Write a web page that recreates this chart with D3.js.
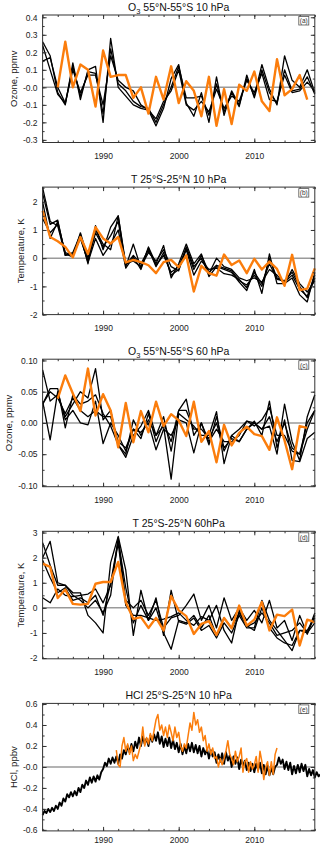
<!DOCTYPE html>
<html>
<head>
<meta charset="utf-8">
<script src="https://cdn.jsdelivr.net/npm/d3@7"></script>
<style>
    body { margin: 0; background: #fff; }
    svg { display: block; font-family: "Liberation Sans", Arial, sans-serif; }
</style>
</head>
<body>
<svg id="chart" width="320" height="847"></svg>
<script>
// annual series, 1982-2018
const years = [1982, 1983, 1984, 1985, 1986, 1987, 1988, 1989, 1990, 1991, 1992, 1993, 1994,
    1995, 1996, 1997, 1998, 1999, 2000, 2001, 2002, 2003, 2004, 2005, 2006, 2007, 2008, 2009,
    2010, 2011, 2012, 2013, 2014, 2015, 2016, 2017, 2018];

const yearTicks = [1990, 2000, 2010];
const yearMinorTicks = [1982, 1984, 1986, 1988, 1990, 1992, 1994, 1996, 1998, 2000, 2002, 2004,
    2006, 2008, 2010, 2012, 2014, 2016, 2018];

// (a) O3 10 hPa
const o3TenModels = [
    [0.26, 0.18, -0.03, -0.10, 0.14, -0.07, 0.10, 0.12, -0.20, 0.28, 0.00, -0.05, -0.10, -0.12, -0.13, -0.22, -0.12, 0.05, 0.13, -0.09, -0.165, -0.03, -0.20, 0.06, -0.16, -0.02, -0.10, 0.05, -0.05, 0.13, -0.01, -0.10, 0.18, 0.04, 0.00, 0.10, -0.03],
    [0.15, 0.17, 0.00, -0.09, 0.12, -0.05, 0.09, 0.08, -0.15, 0.22, 0.02, -0.02, -0.08, -0.11, -0.12, -0.20, -0.10, 0.00, 0.12, -0.06, -0.06, -0.05, -0.16, 0.02, -0.14, -0.03, -0.11, 0.07, -0.06, 0.10, -0.03, -0.09, 0.10, -0.02, -0.01, 0.06, -0.04],
    [0.24, 0.10, -0.04, -0.09, 0.10, -0.03, 0.07, 0.07, -0.10, 0.18, 0.04, 0.00, -0.02, -0.10, -0.13, -0.18, -0.08, -0.02, 0.10, -0.10, -0.13, -0.08, -0.14, -0.01, -0.12, -0.05, -0.08, 0.04, -0.03, 0.08, -0.07, -0.08, 0.07, -0.03, -0.02, 0.03, -0.02]
];
const o3TenObs = [null, null, 0.00, 0.26, 0.00, 0.13, 0.10, -0.11, 0.21, 0.06, 0.07, 0.07, -0.06, 0.00, -0.15, 0.06, -0.07, 0.12, -0.09, 0.035, -0.02, -0.165, 0.06, -0.22, -0.01, -0.21, 0.015, -0.02, 0.09, -0.08, -0.135, 0.16, -0.045, -0.01, 0.07, -0.07, null];

// (b) T 10 hPa
const tTenModels = [
    [2.5, 1.3, 1.15, 0.1, 0.2, 0.85, -0.2, 1.15, 0.3, 1.1, 1.5, -0.3, 0.5, -0.35, 0.4, -0.2, 0.45, -0.7, -0.2, 0.5, -0.2, 0.15, -0.65, -0.3, -0.4, -0.5, -0.85, -1.15, -0.4, -1.25, 0.15, -0.9, -0.9, -0.7, -1.3, -1.55, -0.5],
    [2.3, 1.2, 1.35, 0.1, 0.15, 0.75, -0.15, 0.7, 0.1, 0.5, 1.0, -0.35, 0.05, -0.4, 0.35, -0.3, 0.2, -0.6, -0.4, 0.3, -0.6, -0.1, -0.4, -0.35, -0.55, -0.6, -0.75, -1.05, -0.5, -0.9, -0.2, -0.75, -0.8, -0.5, -1.0, -1.4, -0.7],
    [2.0, 0.7, 1.3, 0.15, 0.05, 0.9, 0.0, 1.0, 0.5, 0.3, 1.5, -0.2, -0.1, -0.3, 0.2, -0.1, 0.3, -0.3, -0.45, 0.4, -0.3, 0.0, -0.55, 0.0, -0.3, -0.4, -0.7, -0.8, -0.7, -0.85, -0.4, -0.6, -0.9, -0.4, -0.9, -1.2, -0.8],
    [1.4, 0.9, 1.2, 0.2, 0.1, 0.7, -0.1, 0.9, 0.4, 0.8, 1.3, -0.25, 0.1, -0.2, 0.3, -0.25, 0.1, -0.5, -0.3, 0.35, -0.4, 0.1, -0.5, -0.25, -0.35, -0.45, -0.8, -0.95, -0.6, -1.0, 0.0, -0.7, -0.85, -0.6, -1.1, -1.35, -0.6]
];
const tTenObs = [1.68, 0.75, 0.6, 0.4, 0.03, 0.75, 0.15, 1.1, 0.7, 0.52, 0.75, -0.15, -0.06, -0.14, -0.25, -0.53, -0.14, -0.06, -0.32, 0.1, -1.18, -0.27, -0.53, -0.62, 0.13, -0.24, -0.08, -0.53, -0.02, -0.4, -0.12, -0.38, -0.98, 0.12, -1.13, -1.08, -0.36];

// (c) O3 60 hPa
const o3SixtyModels = [
    [0.085, 0.035, 0.045, 0.01, 0.03, 0.05, 0.04, 0.087, 0.005, 0.02, -0.035, -0.05, 0.005, -0.02, 0.005, -0.02, -0.005, -0.09, 0.015, 0.005, -0.005, -0.02, -0.02, 0.018, -0.065, -0.02, -0.01, 0.003, 0.0, -0.01, -0.005, -0.05, 0.03, -0.03, -0.06, 0.01, 0.045],
    [0.03, 0.055, 0.055, -0.008, 0.045, 0.03, 0.035, 0.045, 0.015, -0.005, -0.035, -0.055, -0.02, -0.005, 0.02, -0.02, 0.01, -0.045, 0.02, 0.038, -0.02, 0.0, -0.03, -0.01, -0.03, -0.03, -0.02, 0.003, -0.005, 0.005, 0.025, -0.02, -0.02, -0.045, -0.05, -0.01, 0.02],
    [0.035, -0.027, 0.05, 0.005, 0.02, 0.0, -0.003, 0.035, -0.033, 0.0, -0.02, -0.045, -0.01, -0.015, 0.0, -0.043, -0.01, -0.02, 0.005, 0.0, -0.048, 0.0, -0.035, 0.01, -0.04, -0.025, -0.03, -0.01, 0.003, -0.02, 0.035, -0.04, 0.005, -0.06, -0.062, -0.025, -0.015],
    [0.03, 0.05, 0.04, 0.015, 0.04, 0.02, 0.01, 0.02, 0.01, 0.01, -0.03, -0.04, -0.01, -0.025, 0.015, -0.03, 0.0, -0.03, 0.02, 0.02, -0.01, -0.01, -0.025, 0.0, -0.045, -0.02, -0.03, -0.01, 0.0, -0.01, 0.01, -0.03, 0.0, -0.04, -0.05, 0.0, 0.02]
];
const o3SixtyObs = [null, null, 0.039, 0.076, 0.047, 0.019, 0.087, 0.012, 0.046, 0.02, -0.039, 0.032, -0.031, 0.019, -0.015, 0.034, -0.005, 0.014, 0.004, -0.021, 0.034, -0.03, -0.013, -0.063, -0.003, -0.036, -0.016, -0.006, -0.018, -0.021, -0.043, 0.009, -0.028, -0.074, -0.005, -0.008, null];

// (d) T 60 hPa
const tSixtyModels = [
    [2.6, 1.7, 0.9, 0.9, 0.6, 0.6, -0.3, -0.6, -1.0, 1.8, 2.85, 1.5, -1.1, 0.7, -0.5, 0.4, -1.1, 0.7, -0.55, -0.65, -0.4, -0.9, -0.7, -1.2, -0.6, -1.0, -0.3, -0.8, -0.8, 0.3, -0.5, -0.9, -1.3, -1.7, -0.9, -1.0, -0.2],
    [2.0, 2.65, 1.0, 0.9, 0.5, 0.3, 0.0, 0.3, -0.2, 0.5, 2.8, 0.3, 0.0, 0.3, -0.3, 0.3, -0.8, -0.4, -0.3, 0.1, 0.55, -0.5, 0.1, -0.8, 0.4, -0.5, 0.0, -0.5, -0.1, -0.6, 0.3, -0.8, -0.5, -1.3, -0.3, -1.05, -0.3],
    [0.4, 0.2, 0.75, 0.5, 0.45, 0.5, 0.55, 0.75, 0.2, 0.9, 2.6, 0.1, -0.3, -0.3, -0.4, -0.5, -0.45, -0.35, -0.2, -0.5, -0.7, -0.35, -0.5, 0.1, -0.9, -1.4, -0.1, -0.75, -0.6, -0.2, -0.6, -1.1, -1.0, -0.9, -0.6, -1.0, -0.6],
    [1.9, 1.2, 0.6, 0.8, 0.3, 0.4, 0.2, 0.5, -0.3, 1.0, 2.7, 0.8, -0.6, 0.1, -0.5, 0.0, -1.0, -1.65, -0.5, -0.6, -0.3, -0.8, -0.3, -1.1, -0.4, -0.8, -0.2, -0.7, -0.9, 0.0, -0.8, -1.2, -1.4, -1.5, -0.9, -0.9, -0.4]
];
const tSixtyObs = [1.76, 1.63, 0.39, 0.73, 0.16, 0.13, 0.16, 0.96, 1.03, 1.03, 1.83, 0.23, -0.44, -0.37, -0.8, -0.4, -0.9, 0.47, -0.1, -0.33, -1.04, -0.64, -0.53, -1.08, -0.4, -0.81, 0.09, -0.71, -0.47, 0.23, -0.9, -0.27, -0.33, -0.07, -1.5, -0.47, -0.57];

// (e) HCl 10 hPa, quarterly
const hclModelStart = 1982;
const hclModel = [
    -0.46, -0.42, -0.44, -0.40,  -0.43, -0.39, -0.42, -0.37,  -0.40, -0.34, -0.37, -0.30,
    -0.33, -0.26, -0.29, -0.24,  -0.28, -0.23, -0.27, -0.20,  -0.24, -0.17, -0.20, -0.13,
    -0.17, -0.10, -0.15, -0.09,  -0.14, -0.08, -0.12, -0.05,  -0.02, 0.04, 0.01, 0.08,
    0.03, 0.09, 0.04, 0.10,  0.03, 0.12, 0.08, 0.16,  0.12, 0.20, 0.14, 0.22,
    0.15, 0.24, 0.18, 0.28,  0.20, 0.29, 0.22, 0.27,  0.20, 0.30, 0.24, 0.31,
    0.25, 0.33, 0.22, 0.29,  0.19, 0.27, 0.20, 0.28,  0.18, 0.26, 0.17, 0.23,
    0.14, 0.22, 0.12, 0.20,  0.13, 0.22, 0.15, 0.23,  0.14, 0.21, 0.13, 0.20,
    0.10, 0.18, 0.12, 0.17,  0.08, 0.16, 0.10, 0.14,  0.04, 0.12, 0.05, 0.13,
    0.03, 0.14, 0.06, 0.11,  0.00, 0.10, 0.03, 0.09,  -0.02, 0.07, 0.01, 0.06,
    -0.03, 0.04, -0.04, 0.03,  -0.05, 0.03, -0.03, 0.04,  -0.06, 0.02, -0.07, 0.01,
    -0.08, -0.01, -0.07, 0.00,  0.02, 0.09, 0.03, 0.07,  -0.02, 0.05, -0.03, 0.04,
    -0.07, 0.01, -0.06, 0.02,  -0.05, 0.03, -0.04, 0.02,  -0.09, -0.02, -0.08, -0.03,
    -0.10, -0.05, -0.09, -0.07
];
const hclObsStart = 1991.75;
const hclObs = [
    0.16,
    0.02, 0.00, 0.20, 0.28,  0.15, 0.22, 0.12, 0.20,  0.06, 0.12, 0.08, 0.15,
    0.22, 0.38, 0.20, 0.28,  0.22, 0.32, 0.25, 0.35,  0.45, 0.50, 0.35, 0.40,
    0.30, 0.38, 0.28, 0.40,  0.33, 0.25, 0.38, 0.28,  0.33, 0.20, 0.15, 0.22,
    0.18, 0.30, 0.42, 0.35,  0.52, 0.40, 0.45, 0.33,  0.38, 0.25, 0.30, 0.15,
    0.22, 0.12, 0.18, 0.08,  0.10, 0.00, 0.08, 0.02,  0.08, 0.15, 0.25, 0.12,
    0.08, 0.02, 0.15, 0.05,  0.10, 0.18, -0.05, 0.05,  0.08, -0.05, 0.05, -0.02,
    0.02, 0.10, -0.05, 0.15,  0.05, -0.12, 0.00, 0.05,  -0.08, 0.05, -0.07, 0.12,
    0.18
];

// y axis ticks and labels per panel
const o3TenTicks = [-0.3, -0.2, -0.1, 0, 0.1, 0.2, 0.3, 0.4];
const o3TenLabels = ["-0.3", "-0.2", "-0.1", "-0.0", "0.1", "0.2", "0.3", "0.4"];
const tTenTicks = [-2, -1, 0, 1, 2];
const tTenLabels = ["-2", "-1", "0", "1", "2"];
const o3SixtyTicks = [-0.10, -0.05, 0, 0.05, 0.10];
const o3SixtyLabels = ["-0.10", "-0.05", "0.00", "0.05", "0.10"];
const tSixtyTicks = [-2, -1, 0, 1, 2, 3];
const tSixtyLabels = ["-2", "-1", "0", "1", "2", "3"];
const hclTicks = [-0.6, -0.4, -0.2, 0, 0.2, 0.4, 0.6];
const hclLabels = ["-0.6", "-0.4", "-0.2", "-0.0", "0.2", "0.4", "0.6"];

const ORANGE = "#fb7d0c";

const annual = arr => years.map((yr, i) => ({x: yr, y: arr[i]}));
const quarterly = (start, arr) => arr.map((v, i) => ({x: start + i * 0.25, y: v}));

const panels = [
    {letter: "(a)", title: ["O", "3", " 55°N-55°S 10 hPa"], ylabel: "Ozone, ppmv", domain: [-0.315, 0.413],
        ticks: o3TenTicks, labels: o3TenLabels, minor: 0.05,
        black: o3TenModels.map(annual), orange: annual(o3TenObs), bw: 1.3, ow: 2.4},
    {letter: "(b)", title: ["T 25°S-25°N 10 hPa"], ylabel: "Temperature, K", domain: [-2, 2.52],
        ticks: tTenTicks, labels: tTenLabels, minor: 0.5,
        black: tTenModels.map(annual), orange: annual(tTenObs), bw: 1.3, ow: 2.4},
    {letter: "(c)", title: ["O", "3", " 55°N-55°S 60 hPa"], ylabel: "Ozone, ppmv", domain: [-0.102, 0.102],
        ticks: o3SixtyTicks, labels: o3SixtyLabels, minor: 0.025,
        black: o3SixtyModels.map(annual), orange: annual(o3SixtyObs), bw: 1.3, ow: 2.4},
    {letter: "(d)", title: ["T 25°S-25°N 60hPa"], ylabel: "Temperature, K", domain: [-2.03, 3.05],
        ticks: tSixtyTicks, labels: tSixtyLabels, minor: 0.5,
        black: tSixtyModels.map(annual), orange: annual(tSixtyObs), bw: 1.3, ow: 2.4},
    {letter: "(e)", title: ["HCl 25°S-25°N 10 hPa"], ylabel: "HCl, ppbv", domain: [-0.61, 0.606],
        ticks: hclTicks, labels: hclLabels, minor: 0.1,
        black: [quarterly(hclModelStart, hclModel)], orange: quarterly(hclObsStart, hclObs), bw: 1.9, ow: 1.5}
];

const svg = d3.select("#chart");
const left = 42.6, right = 314.8, panelH = 127.5, step = 172.1, firstTop = 15;

const x = d3.scaleLinear().domain([1982, 2018]).range([left, right]);

panels.forEach((p, i) => {
    const top = firstTop + i * step;
    const bottom = top + panelH;
    const y = d3.scaleLinear().domain(p.domain).range([bottom, top]);
    const g = svg.append("g").attr("class", "panel");
    const isLast = i === panels.length - 1;

    const minorVals = d3.range(Math.ceil(p.domain[0] / p.minor), Math.floor(p.domain[1] / p.minor) + 1)
        .map(k => +(k * p.minor).toFixed(4));

    // zero line
    g.append("line")
        .attr("x1", left).attr("x2", right)
        .attr("y1", y(0)).attr("y2", y(0))
        .attr("stroke", "#9a9a9a").attr("stroke-width", 1.5);

    const line = d3.line()
        .defined(d => d.y !== null)
        .x(d => x(d.x))
        .y(d => y(d.y));

    g.selectAll("path.model")
        .data(p.black)
        .join("path")
            .attr("class", "model")
            .attr("d", line)
            .attr("fill", "none")
            .attr("stroke", "#000")
            .attr("stroke-width", p.bw)
            .attr("stroke-linejoin", "round");

    g.append("path")
        .attr("d", line(p.orange))
        .attr("fill", "none")
        .attr("stroke", ORANGE)
        .attr("stroke-width", p.ow)
        .attr("stroke-linejoin", "round");

    // frame
    g.append("rect")
        .attr("x", left).attr("y", top)
        .attr("width", right - left).attr("height", panelH)
        .attr("fill", "none").attr("stroke", "#333").attr("stroke-width", 1);

    const tidy = sel => {
        sel.select(".domain").remove();
        sel.selectAll(".tick line").attr("stroke", "#333");
        sel.selectAll(".tick text").attr("fill", "#222").style("font-size", "8.5px");
    };

    // left / right
    const yAxis = g.append("g")
        .attr("transform", `translate(${left},0)`)
        .call(d3.axisLeft(y).tickValues(p.ticks).tickFormat((d, k) => p.labels[k]).tickSizeInner(-4).tickPadding(5))
        .call(tidy);
    g.append("g")
        .attr("transform", `translate(${left},0)`)
        .call(d3.axisLeft(y).tickValues(minorVals).tickFormat("").tickSizeInner(-2))
        .call(tidy);
    g.append("g")
        .attr("transform", `translate(${right},0)`)
        .call(d3.axisRight(y).tickValues(p.ticks).tickFormat("").tickSizeInner(-4))
        .call(tidy);
    g.append("g")
        .attr("transform", `translate(${right},0)`)
        .call(d3.axisRight(y).tickValues(minorVals).tickFormat("").tickSizeInner(-2))
        .call(tidy);

    // bottom / top
    g.append("g")
        .attr("transform", `translate(0,${bottom})`)
        .call(d3.axisBottom(x).tickValues(yearTicks).tickFormat(d3.format("d")).tickSizeInner(-4).tickPadding(isLast ? 6 : 10))
        .call(tidy);
    g.append("g")
        .attr("transform", `translate(0,${bottom})`)
        .call(d3.axisBottom(x).tickValues(yearMinorTicks).tickFormat("").tickSizeInner(-2))
        .call(tidy);
    g.append("g")
        .attr("transform", `translate(0,${top})`)
        .call(d3.axisTop(x).tickValues(yearTicks).tickFormat("").tickSizeInner(-4))
        .call(tidy);
    g.append("g")
        .attr("transform", `translate(0,${top})`)
        .call(d3.axisTop(x).tickValues(yearMinorTicks).tickFormat("").tickSizeInner(-2))
        .call(tidy);

    // title
    const title = g.append("text")
        .attr("x", (left + right) / 2)
        .attr("y", top - 4)
        .attr("text-anchor", "middle")
        .style("font-size", "10.5px")
        .attr("fill", "#111");
    if (p.title.length === 3) {
        title.append("tspan").text(p.title[0]);
        title.append("tspan").attr("dy", 2.5).style("font-size", "7.5px").text(p.title[1]);
        title.append("tspan").attr("dy", -2.5).text(p.title[2]);
    } else {
        title.text(p.title[0]);
    }

    // y label, placed left of the widest tick label
    let minX = left;
    yAxis.selectAll(".tick text").each(function() {
        const b = this.getBBox();
        minX = Math.min(minX, left + b.x);
    });
    const cy = (top + bottom) / 2;
    g.append("text")
        .attr("transform", `translate(${minX - 6},${cy}) rotate(-90)`)
        .attr("text-anchor", "middle")
        .style("font-size", "9.5px")
        .attr("fill", "#222")
        .text(p.ylabel);

    // panel letter box
    g.append("rect")
        .attr("x", right - 16).attr("y", top + 1.5)
        .attr("width", 10).attr("height", 8.5)
        .attr("fill", "#fff").attr("stroke", "#555").attr("stroke-width", 0.8);
    g.append("text")
        .attr("x", right - 11).attr("y", top + 8.3)
        .attr("text-anchor", "middle")
        .style("font-size", "6.5px")
        .attr("fill", "#333")
        .text(p.letter);
});
</script>
</body>
</html>
